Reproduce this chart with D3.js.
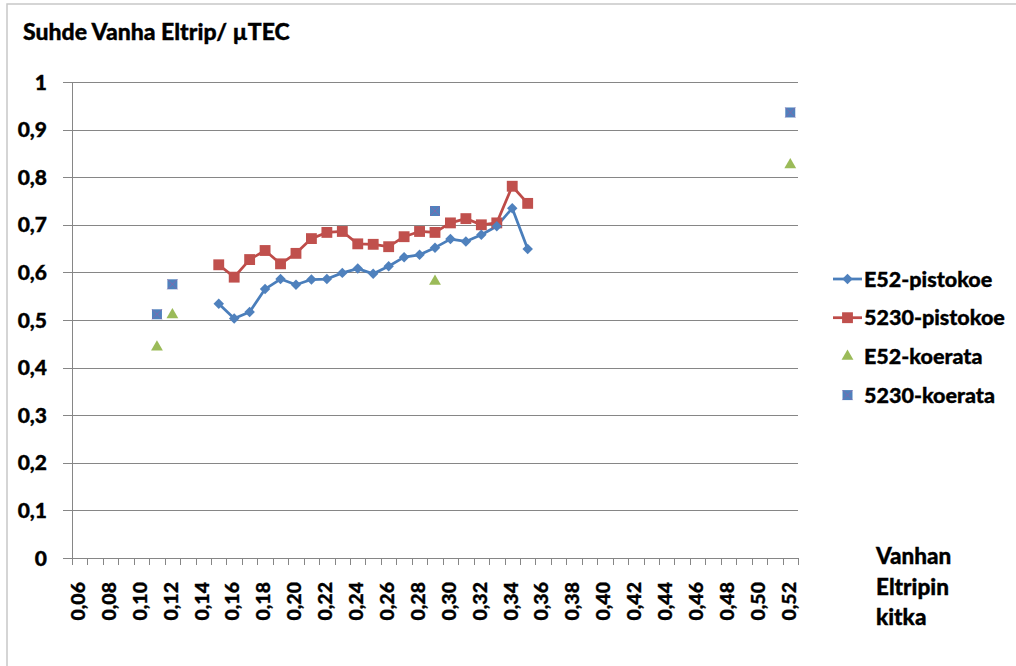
<!DOCTYPE html>
<html>
<head>
<meta charset="utf-8">
<script src="https://cdn.jsdelivr.net/npm/d3@7"></script>
<style>
  body { margin: 0; background: #fff; }
  text { font-family: Lato, "Open Sans", sans-serif; font-weight: 900; fill: #000; stroke: #000; stroke-width: 0.35px; }
</style>
</head>
<body>
<div id="chart"></div>
<script>
var margin = { top: 82, right: 218, bottom: 108, left: 72 }
var width = 1016 - margin.left - margin.right
var height = 666 - margin.top - margin.bottom

// pistokoe series share these x values
var xPisto = [0.15, 0.16, 0.17, 0.18, 0.19, 0.20, 0.21, 0.22, 0.23, 0.24, 0.25,
  0.26, 0.27, 0.28, 0.29, 0.30, 0.31, 0.32, 0.33, 0.34, 0.35]
var e52Pisto = [0.534, 0.503, 0.517, 0.565, 0.586, 0.574, 0.585, 0.586, 0.599, 0.608, 0.597,
  0.613, 0.632, 0.637, 0.652, 0.670, 0.665, 0.679, 0.697, 0.735, 0.649]
var s5230Pisto = [0.616, 0.590, 0.627, 0.646, 0.618, 0.640, 0.671, 0.684, 0.686, 0.660, 0.659,
  0.654, 0.675, 0.686, 0.684, 0.704, 0.713, 0.700, 0.704, 0.781, 0.745]

// koerata points
var xKoe = [0.11, 0.12, 0.29, 0.52]
var e52Koe = [0.443, 0.511, 0.581, 0.826]
var s5230Koe = [0.512, 0.575, 0.729, 0.936]

var yTickLabels = ["0", "0,1", "0,2", "0,3", "0,4", "0,5", "0,6", "0,7", "0,8", "0,9", "1"]
var xTickLabels = ["0,06", "0,08", "0,10", "0,12", "0,14", "0,16", "0,18", "0,20", "0,22", "0,24", "0,26", "0,28",
  "0,30", "0,32", "0,34", "0,36", "0,38", "0,40", "0,42", "0,44", "0,46", "0,48", "0,50", "0,52"]

var seriesNames = ["E52-pistokoe", "5230-pistokoe", "E52-koerata", "5230-koerata"]

var blue = "#4A7EBB", blueFill = "#4F81BD", red = "#BE4B48", redFill = "#C0504D", green = "#9BBB59", purple = "#8B64A8"
var grid = "#868686"

var x = d3.scaleLinear()
  .domain([0.055, 0.525])
  .range([0, width])

var y = d3.scaleLinear()
  .domain([0, 1])
  .range([height, 0])

var root = d3.select("#chart").append("svg")
  .attr("width", 1016)
  .attr("height", 666)

// chart frame
root.append("rect")
  .attr("x", 7)
  .attr("y", 4)
  .attr("width", 1030)
  .attr("height", 700)
  .attr("fill", "none")
  .attr("stroke", "#c8c8c8")
  .attr("stroke-width", 1.5)

root.append("text")
  .attr("x", 23)
  .attr("y", 40)
  .attr("font-size", 23)
  .text("Suhde Vanha Eltrip/ \u00b5TEC")

var svg = root.append("g")
  .attr("transform", "translate(" + margin.left + "," + margin.top + ")")

// horizontal gridlines + y ticks
svg.selectAll(".grid")
  .data(yTickLabels)
  .enter().append("line")
  .attr("x1", -9)
  .attr("x2", width)
  .attr("y1", (d, i) => Math.round(y(i / 10)) + 0.5)
  .attr("y2", (d, i) => Math.round(y(i / 10)) + 0.5)
  .attr("stroke", grid)
  .attr("stroke-width", 1)

svg.selectAll(".ylab")
  .data(yTickLabels)
  .enter().append("text")
  .attr("x", -25)
  .attr("y", (d, i) => y(i / 10))
  .attr("dy", "0.36em")
  .attr("text-anchor", "end")
  .attr("font-size", 21)
  .text(d => d)

// y axis line
svg.append("line")
  .attr("x1", 0.5).attr("x2", 0.5)
  .attr("y1", 0).attr("y2", height)
  .attr("stroke", grid)

// x ticks every 0.01, labels every 0.02
var minor = d3.range(48).map(i => 0.055 + i * 0.01)
svg.selectAll(".xtick")
  .data(minor)
  .enter().append("line")
  .attr("x1", d => Math.round(x(d)) + 0.5)
  .attr("x2", d => Math.round(x(d)) + 0.5)
  .attr("y1", height)
  .attr("y2", height + 7)
  .attr("stroke", grid)

svg.selectAll(".xlab")
  .data(xTickLabels)
  .enter().append("text")
  .attr("transform", (d, i) => "translate(" + (x(0.055 + i * 0.02) + 6) + "," + (height + 24) + ") rotate(-90)")
  .attr("dy", "0.36em")
  .attr("text-anchor", "end")
  .attr("font-size", 19.5)
  .text(d => d)

var line = d3.line()
  .x((d, i) => x(xPisto[i]))
  .y(d => y(d))

svg.append("path")
  .datum(e52Pisto)
  .attr("d", line)
  .attr("fill", "none")
  .attr("stroke", blue)
  .attr("stroke-width", 2.75)
  .attr("stroke-linejoin", "round")

svg.append("path")
  .datum(s5230Pisto)
  .attr("d", line)
  .attr("fill", "none")
  .attr("stroke", red)
  .attr("stroke-width", 2.75)
  .attr("stroke-linejoin", "round")

var diamond = d3.symbol().type(d3.symbolDiamond2).size(70)
var square = d3.symbol().type(d3.symbolSquare2).size(150)
var tri = d3.symbol().type(d3.symbolTriangle2).size(100)
var sq2 = d3.symbol().type(d3.symbolSquare2).size(127)

svg.selectAll(".redm")
  .data(s5230Pisto)
  .enter().append("path")
  .attr("d", square)
  .attr("transform", (d, i) => "translate(" + x(xPisto[i]) + "," + y(d) + ")")
  .attr("fill", redFill)

svg.selectAll(".bluem")
  .data(e52Pisto)
  .enter().append("path")
  .attr("d", diamond)
  .attr("transform", (d, i) => "translate(" + x(xPisto[i]) + "," + y(d) + ")")
  .attr("fill", blueFill)

svg.selectAll(".tri")
  .data(e52Koe)
  .enter().append("path")
  .attr("d", tri)
  .attr("transform", (d, i) => "translate(" + x(xKoe[i]) + "," + y(d) + ")")
  .attr("fill", green)

function crossSquare(g) {
  g.append("path").attr("d", sq2).attr("fill", blueFill)
  g.append("path").attr("d", "M-5,-5L5,5M-5,5L5,-5")
    .attr("stroke", purple).attr("stroke-width", 0.8)
}

svg.selectAll(".sq")
  .data(s5230Koe)
  .enter().append("g")
  .attr("transform", (d, i) => "translate(" + x(xKoe[i]) + "," + y(d) + ")")
  .call(crossSquare)

// legend
var legend = root.append("g")
  .attr("transform", "translate(833,279)")

var item = legend.selectAll(".legend")
  .data(seriesNames)
  .enter().append("g")
  .attr("transform", (d, i) => "translate(0," + i * 38.7 + ")")

item.filter((d, i) => i < 2).append("line")
  .attr("x1", 0).attr("x2", 29)
  .attr("stroke", (d, i) => i == 0 ? blue : red)
  .attr("stroke-width", 2.75)

item.filter((d, i) => i == 0).append("path").attr("d", diamond).attr("transform", "translate(14.5,0)").attr("fill", blueFill)
item.filter((d, i) => i == 1).append("path").attr("d", square).attr("transform", "translate(14.5,0)").attr("fill", redFill)
item.filter((d, i) => i == 2).append("path").attr("d", tri).attr("transform", "translate(14.5,0)").attr("fill", green)
item.filter((d, i) => i == 3).append("g").attr("transform", "translate(14.5,0)").call(crossSquare)

item.append("text")
  .attr("x", 31)
  .attr("dy", "0.36em")
  .attr("font-size", 21.5)
  .text(d => d)

// x axis title, right of the plot
root.append("text")
  .attr("x", 876)
  .attr("y", 564)
  .attr("font-size", 22.5)
  .selectAll("tspan")
  .data(["Vanhan", "Eltripin", "kitka"])
  .enter().append("tspan")
  .attr("x", 876)
  .attr("dy", (d, i) => i == 0 ? 0 : 30.5)
  .text(d => d)
</script>
</body>
</html>
